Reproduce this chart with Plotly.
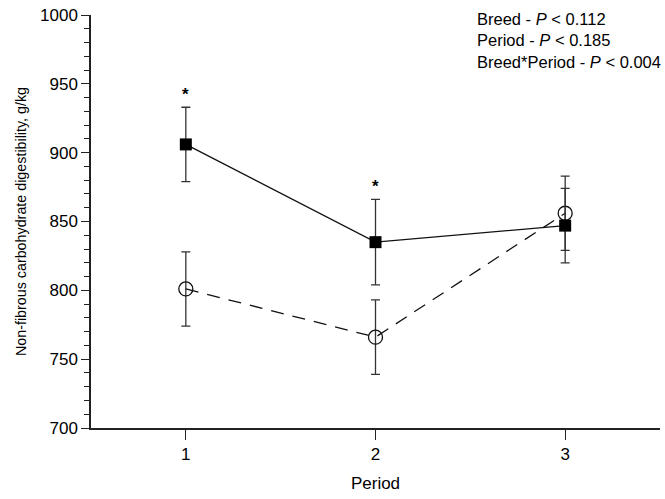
import plotly.graph_objects as go

periods = [1, 2, 3]
breed_a = [906, 835, 847]          # filled squares
breed_a_err = [27, 31, 27]
breed_b = [801, 766, 856]          # open circles
breed_b_err = [27, 27, 27]
sig_periods = [1, 2]
stats_lines = ["Breed - <i>P</i> < 0.112", "Period - <i>P</i> < 0.185", "Breed*Period - <i>P</i> < 0.004"]
y_title = "Non-fibrous carbohydrate digestibility, g/kg"
x_title = "Period"

FONT = "Liberation Sans, Arial, sans-serif"

fig = go.Figure()
fig.add_trace(go.Scatter(
    x=periods, y=breed_b, mode="lines+markers",
    line=dict(color="#111", width=1.3, dash="13px,9px"),
    marker=dict(symbol="circle-open", size=14, color="#111", line=dict(width=1.3)),
    error_y=dict(type="data", array=breed_b_err, color="#333", thickness=1.3, width=4.5),
    showlegend=False,
))
fig.add_trace(go.Scatter(
    x=periods, y=breed_a, mode="lines+markers",
    line=dict(color="#111", width=1.3),
    marker=dict(symbol="square", size=12, color="#000"),
    error_y=dict(type="data", array=breed_a_err, color="#333", thickness=1.3, width=4.5),
    showlegend=False,
))

for p in sig_periods:
    i = periods.index(p)
    top = max(breed_a[i] + breed_a_err[i], breed_b[i] + breed_b_err[i])
    fig.add_annotation(x=p, y=top, text="<b>*</b>", showarrow=False,
                       yanchor="bottom", yshift=1, font=dict(size=17, color="#000", family=FONT))

fig.add_annotation(xref="paper", yref="paper", x=0.674, y=1.016, xanchor="left", yanchor="top",
                   align="left", showarrow=False, text="<br>".join(stats_lines),
                   font=dict(size=16.5, color="#000", family=FONT))

fig.update_layout(
    width=665, height=499,
    margin=dict(l=91, r=5, t=15, b=71),
    paper_bgcolor="white", plot_bgcolor="white",
    font=dict(family=FONT, size=16, color="#000"),
    xaxis=dict(range=[0.5, 3.5], tickvals=periods, ticks="outside", ticklen=10, tickwidth=1.3,
               tickcolor="#222", showline=True, linecolor="#222", linewidth=1.5, showgrid=False,
               zeroline=False, automargin=False, tickfont=dict(size=17),
               title=dict(text=x_title, standoff=14, font=dict(size=17)), fixedrange=True),
    yaxis=dict(range=[700, 1000], tickvals=[700, 750, 800, 850, 900, 950, 1000], ticks="outside",
               ticklen=8, tickwidth=1.3, tickcolor="#222", showline=True, linecolor="#222",
               linewidth=1.5, showgrid=False, zeroline=False, automargin=False, tickfont=dict(size=17),
               minor=dict(dtick=10, ticks="outside", ticklen=5, tickwidth=1.2, tickcolor="#222", showgrid=False),
               title=dict(text=y_title, standoff=10, font=dict(size=14.3)), fixedrange=True),
)

# remove the page's default body margin so the 665x499 figure fills the window exactly
fig.write_html("out.html", config={"displayModeBar": False}, post_script=(
    "document.body.style.margin='0';"
    "document.body.style.overflow='hidden';"
    "document.documentElement.style.overflow='hidden';"
))
